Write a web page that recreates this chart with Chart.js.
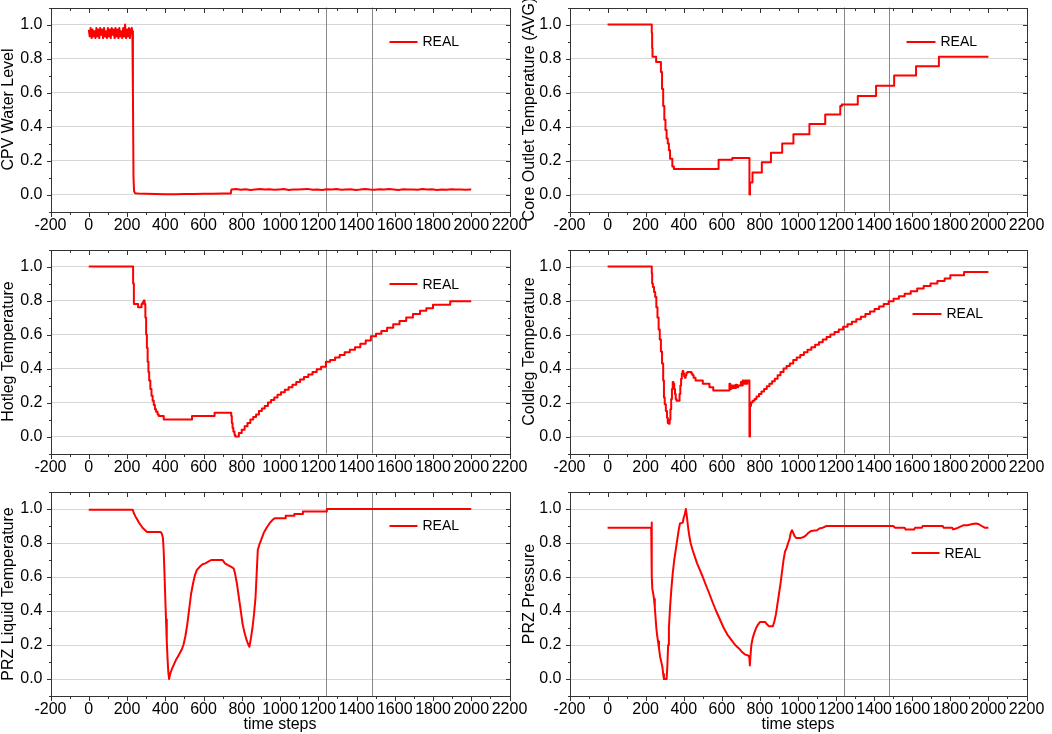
<!DOCTYPE html>
<html>
<head>
<meta charset="utf-8">
<script src="https://cdn.jsdelivr.net/npm/chart.js@4.4.0/dist/chart.umd.min.js"></script>
<style>
html,body{margin:0;padding:0;background:#fff;width:1052px;height:734px;overflow:hidden;position:relative;}
</style>
</head>
<body>
<script>
// ---------------- DATA ----------------
const timeTicks = [-200, 0, 200, 400, 600, 800, 1000, 1200, 1400, 1600, 1800, 2000, 2200];
const timeMinor = [-100, 100, 300, 500, 700, 900, 1100, 1300, 1500, 1700, 1900, 2100];
const levelTicks = [0.0, 0.2, 0.4, 0.6, 0.8, 1.0];
const levelMinor = [-0.1, 0.1, 0.3, 0.5, 0.7, 0.9, 1.1];
const markerSteps = [1240, 1480];
const seriesName = 'REAL';

// CPV Water Level
const cpvX = [0,5,10,15,20,25,30,35,40,45,50,55,60,65,70,75,80,85,90,95,100,105,110,115,120,125,130,135,140,145,150,155,160,165,170,175,180,185,190,195,200,205,210,215,220,225,
  228,231,234,237,242,260,300,350,400,450,500,550,600,650,700,743,746,
  770,795,820,845,870,895,920,945,970,995,1020,1045,1070,1095,1120,1145,1170,1195,1220,1245,1270,1295,1320,1345,1370,1395,1420,1445,1470,1495,1520,1545,1570,1595,1620,1645,1670,1695,1720,1745,1770,1795,1820,1845,1870,1895,1920,1945,1970,1995,2000];
const cpvY = [0.97,0.93,0.98,0.92,0.97,0.93,0.96,0.92,0.98,0.93,
  0.97,0.92,0.98,0.94,0.97,0.92,0.98,0.93,0.96,0.92,
  0.98,0.93,0.97,0.92,0.98,0.94,0.97,0.92,0.98,0.93,
  0.97,0.92,0.98,0.93,0.96,0.92,0.98,0.93,1.00,0.92,
  0.97,0.93,0.98,0.92,0.97,0.98,
  0.96,0.60,0.10,0.02,0.008,0.006,0.005,0.003,0.002,0.002,0.003,0.003,0.004,0.005,0.006,0.006,0.030,
  0.032,0.028,0.031,0.027,0.030,0.033,0.029,0.031,0.028,0.030,
  0.032,0.027,0.030,0.029,0.031,0.033,0.028,0.030,0.027,0.031,
  0.029,0.032,0.028,0.030,0.031,0.027,0.029,0.033,0.030,0.028,
  0.031,0.029,0.032,0.030,0.027,0.031,0.029,0.030,0.028,0.032,
  0.029,0.031,0.027,0.030,0.028,0.031,0.029,0.030,0.028,0.030,0.029];

// Core Outlet Temperature (AVG) - stepped
const coreX = [0,232,234,236,255,280,286,292,298,304,310,316,322,328,340,348,583,655,745,748,761,810,858,917,976,1060,1143,1222,1230,1314,1410,1505,1620,1740,2000];
const coreY = [1.0,0.95,0.86,0.81,0.78,0.72,0.62,0.52,0.44,0.38,0.33,0.30,0.26,0.21,0.165,0.15,0.205,0.215,0.0,0.07,0.13,0.19,0.245,0.30,0.355,0.415,0.47,0.52,0.53,0.58,0.64,0.70,0.755,0.81,0.81];

// Hotleg Temperature - stepped
const hotX = [0,232,236,258,276,282,288,292,296,300,304,308,312,316,322,328,334,340,346,352,360,366,392,540,658,745,748,752,756,762,766,785,
  800,815,830,845,860,875,890,905,920,937,953,970,987,1005,1025,1045,1065,1085,1105,1125,1148,1170,1192,1215,1240,1262,1288,1312,1338,1365,1392,1420,1448,1475,1502,1530,1560,1592,1625,1660,1695,1732,1765,1800,1890,2000];
const hotY = [1.0,0.9,0.78,0.76,0.78,0.79,0.80,0.78,0.70,0.60,0.52,0.44,0.38,0.33,0.28,0.24,0.21,0.185,0.16,0.145,0.13,0.12,0.10,0.12,0.14,0.12,0.08,0.05,0.03,0.01,0.0,0.02,
  0.04,0.06,0.08,0.10,0.115,0.13,0.15,0.165,0.18,0.20,0.215,0.23,0.245,0.26,0.275,0.29,0.305,0.32,0.335,0.35,0.365,0.38,0.395,0.41,0.44,0.45,0.465,0.48,0.495,0.51,0.525,0.545,0.565,0.59,0.605,0.62,0.64,0.66,0.68,0.70,0.72,0.74,0.755,0.775,0.795,0.795];

// Coldleg Temperature - stepped
const coldX = [0,232,234,238,244,250,256,262,268,274,280,286,292,296,300,306,312,316,322,326,330,334,338,342,346,350,354,358,362,378,382,386,390,394,398,402,406,410,414,420,440,446,452,462,500,535,555,640,644,650,654,662,668,674,680,686,700,706,710,716,722,728,734,745,
  748,753,762,772,782,795,808,822,836,850,864,878,893,908,924,940,957,975,993,1012,1031,1050,1070,1090,1110,1130,1150,1170,1192,1214,1237,1260,1283,1306,1330,1354,1378,1402,1426,1450,1476,1502,1530,1560,1592,1626,1660,1696,1732,1770,1800,1872,2000];
const coldY = [1.0,0.96,0.90,0.88,0.85,0.82,0.76,0.70,0.63,0.57,0.50,0.43,0.33,0.23,0.19,0.15,0.11,0.08,0.075,0.10,0.16,0.22,0.28,0.32,0.31,0.28,0.25,0.22,0.21,0.25,0.30,0.34,0.37,0.385,0.37,0.355,0.345,0.36,0.375,0.38,0.37,0.36,0.345,0.33,0.31,0.29,0.27,0.31,0.28,0.30,0.285,0.30,0.285,0.305,0.29,0.30,0.32,0.30,0.33,0.31,0.33,0.31,0.33,0.0,
  0.18,0.20,0.21,0.22,0.235,0.25,0.265,0.28,0.295,0.31,0.325,0.34,0.36,0.38,0.40,0.415,0.43,0.45,0.465,0.48,0.495,0.51,0.525,0.54,0.555,0.57,0.585,0.60,0.615,0.63,0.645,0.66,0.675,0.69,0.705,0.72,0.735,0.75,0.765,0.78,0.795,0.81,0.825,0.84,0.855,0.87,0.885,0.90,0.915,0.93,0.948,0.968,0.968];

// PRZ Liquid Temperature
const przTX = [0,230,236,245,255,265,275,285,295,305,375,382,388,392,396,400,404,408,412,416,420,426,435,445,455,465,475,485,495,505,515,525,535,545,555,565,580,595,610,625,640,700,712,728,745,758,765,775,785,795,805,815,825,835,840,848,856,864,872,878,884,892,902,915,930,945,960,972,1030,1030,1075,1075,1120,1120,1245,1245,2000];
const przTY = [0.995,0.995,0.975,0.955,0.935,0.915,0.90,0.885,0.875,0.865,0.865,0.855,0.83,0.75,0.62,0.48,0.35,0.22,0.12,0.04,0.0,0.03,0.06,0.085,0.11,0.13,0.15,0.17,0.20,0.25,0.32,0.41,0.50,0.56,0.61,0.64,0.66,0.675,0.68,0.69,0.70,0.70,0.68,0.67,0.66,0.65,0.62,0.56,0.48,0.40,0.32,0.27,0.23,0.20,0.19,0.24,0.30,0.38,0.48,0.62,0.76,0.79,0.82,0.86,0.89,0.915,0.935,0.945,0.945,0.96,0.96,0.97,0.97,0.985,0.985,1.0,1.0];

// PRZ Pressure
const przPX = [0,229,231,233,235,240,244,248,252,256,260,265,270,276,282,288,292,296,310,314,318,322,328,335,342,350,358,366,374,380,395,400,406,411,416,422,428,436,446,458,470,485,500,517,535,552,570,590,610,630,650,670,690,705,720,735,742,745,747,750,755,762,770,780,790,800,828,838,848,868,876,884,892,900,908,916,924,932,940,948,955,962,968,975,982,990,1015,1030,1042,1055,1068,1100,1112,1130,1150,1500,1510,1560,1565,1610,1615,1650,1655,1760,1765,1810,1815,1830,1850,1870,1890,1910,1935,1950,1965,1980,2000];
const przPY = [0.89,0.89,0.92,0.60,0.53,0.50,0.47,0.42,0.36,0.30,0.26,0.22,0.18,0.13,0.10,0.07,0.03,0.0,0.0,0.08,0.20,0.30,0.42,0.53,0.62,0.70,0.76,0.82,0.88,0.915,0.92,0.95,0.97,1.0,0.96,0.90,0.85,0.80,0.76,0.72,0.68,0.64,0.60,0.55,0.50,0.45,0.40,0.35,0.30,0.26,0.23,0.20,0.18,0.16,0.145,0.14,0.135,0.12,0.08,0.13,0.20,0.24,0.27,0.30,0.32,0.335,0.335,0.32,0.31,0.31,0.34,0.38,0.44,0.50,0.56,0.63,0.70,0.75,0.77,0.80,0.82,0.86,0.875,0.86,0.84,0.83,0.83,0.835,0.845,0.86,0.87,0.875,0.885,0.89,0.90,0.90,0.89,0.89,0.88,0.88,0.89,0.89,0.90,0.90,0.89,0.89,0.88,0.885,0.895,0.905,0.905,0.91,0.915,0.91,0.90,0.89,0.89];

// ---------------- LAYOUT ----------------
const COLS = [
  {left: 0,   width: 540, plotLeft: 50.5,  plotRight: 509.5},
  {left: 521, width: 531, plotLeft: 569.5, plotRight: 1026.5}
];
const ROWS = [
  {top: 0,   height: 235, plotTop: 7.5,   plotBottom: 211.5},
  {top: 235, height: 245, plotTop: 249.5, plotBottom: 453.5},
  {top: 480, height: 254, plotTop: 492,   plotBottom: 696}
];

const panels = [
  {title: 'CPV Water Level',               xs: cpvX,  ys: cpvY,  stepped: false, col: 0, row: 0, legend: [339, 367, 34.2]},
  {title: 'Core Outlet Temperature (AVG)', xs: coreX, ys: coreY, stepped: true,  col: 1, row: 0, legend: [337, 366, 34.2]},
  {title: 'Hotleg Temperature',            xs: hotX,  ys: hotY,  stepped: true,  col: 0, row: 1, legend: [339, 367, 34.8]},
  {title: 'Coldleg Temperature',           xs: coldX, ys: coldY, stepped: true,  col: 1, row: 1, legend: [343, 372, 64.5]},
  {title: 'PRZ Liquid Temperature',        xs: przTX, ys: przTY, stepped: false, col: 0, row: 2, legend: [339, 367, 33.7]},
  {title: 'PRZ Pressure',                  xs: przPX, ys: przPY, stepped: false, col: 1, row: 2, legend: [342, 370, 61.3]}
];

const FONT = "'Liberation Sans', Arial, Helvetica, sans-serif";
const al = v => Math.round(v) + 0.5;

const markerPlugin = {
  id: 'markers',
  beforeDatasetsDraw(chart) {
    const {ctx, chartArea: a, scales: {x}} = chart;
    ctx.save();
    ctx.strokeStyle = '#8a8a8a';
    ctx.lineWidth = 1;
    markerSteps.forEach(v => {
      const px = al(x.getPixelForValue(v));
      ctx.beginPath(); ctx.moveTo(px, a.top); ctx.lineTo(px, a.bottom); ctx.stroke();
    });
    ctx.restore();
  }
};

const framePlugin = {
  id: 'frame',
  afterDatasetsDraw(chart) {
    const {ctx, chartArea: a, scales: {x, y}} = chart;
    const L = al(a.left), R = al(a.right), T = al(a.top), B = al(a.bottom);
    ctx.save();
    ctx.strokeStyle = '#333';
    ctx.lineWidth = 1;
    ctx.strokeRect(L, T, R - L, B - T);
    const tick = (vals, len) => {
      vals.forEach(v => {
        const px = al(x.getPixelForValue(v));
        ctx.beginPath();
        ctx.moveTo(px, B); ctx.lineTo(px, B + len);
        ctx.moveTo(px, T); ctx.lineTo(px, T + len);
        ctx.stroke();
      });
    };
    const ytick = (vals, len) => {
      vals.forEach(v => {
        const py = al(y.getPixelForValue(v));
        ctx.beginPath();
        ctx.moveTo(L, py); ctx.lineTo(L - len, py);
        ctx.moveTo(R, py); ctx.lineTo(R - len, py);
        ctx.stroke();
      });
    };
    tick(timeTicks, 4.5); tick(timeMinor, 2.5);
    ytick(levelTicks, 4.5); ytick(levelMinor, 2.5);
    ctx.restore();
  }
};

const legendPlugin = {
  id: 'realLegend',
  afterDraw(chart, args, opts) {
    const {ctx, chartArea: a} = chart;
    const [x0, x1, yy] = opts.pos;
    const ds = chart.data.datasets[0];
    ctx.save();
    ctx.strokeStyle = ds.borderColor;
    ctx.lineWidth = 2;
    ctx.beginPath();
    ctx.moveTo(a.left + x0, Math.round(a.top + yy));
    ctx.lineTo(a.left + x1, Math.round(a.top + yy));
    ctx.stroke();
    ctx.fillStyle = '#000';
    ctx.font = '14px ' + FONT;
    ctx.textBaseline = 'middle';
    ctx.fillText(ds.label, a.left + x1 + 5, a.top + yy + 0.5);
    ctx.restore();
  }
};

panels.forEach(p => {
  const col = COLS[p.col], row = ROWS[p.row];
  const wrap = document.createElement('div');
  wrap.style.cssText = `position:absolute;left:${col.left}px;top:${row.top}px;width:${col.width}px;height:${row.height}px;`;
  const cv = document.createElement('canvas');
  wrap.appendChild(cv);
  document.body.appendChild(wrap);

  const padTop = row.plotTop - row.top;
  const padRight = col.width - (col.plotRight - col.left);
  const yW = col.plotLeft - col.left;
  const xH = row.height - (row.plotBottom - row.top);
  const bottomRow = p.row === 2;

  new Chart(cv, {
    type: 'line',
    data: {
      datasets: [{
        label: seriesName,
        data: p.xs.map((xv, i) => ({x: xv, y: p.ys[i]})),
        borderColor: '#ff0000',
        borderWidth: 2,
        borderJoinStyle: 'round',
        pointRadius: 0,
        fill: false,
        tension: 0,
        stepped: p.stepped
      }]
    },
    options: {
      responsive: true,
      maintainAspectRatio: false,
      animation: false,
      events: [],
      layout: {padding: {top: padTop, right: padRight, left: 0, bottom: 0}},
      plugins: {
        legend: {display: false},
        tooltip: {enabled: false},
        realLegend: {pos: p.legend}
      },
      scales: {
        x: {
          type: 'linear',
          min: -200, max: 2200,
          afterBuildTicks: s => { s.ticks = timeTicks.map(v => ({value: v})); },
          afterFit: s => { s.height = xH; s.paddingLeft = 0; s.paddingRight = 0; },
          grid: {display: false, drawTicks: false},
          border: {display: false},
          ticks: {
            autoSkip: false, maxRotation: 0, minRotation: 0, padding: 4,
            color: '#000', font: {family: FONT, size: 16},
            callback: v => String(v)
          },
          title: {
            display: bottomRow, text: 'time steps', color: '#000',
            font: {family: FONT, size: 16, lineHeight: 1.2}, padding: {top: 0, bottom: 0}
          }
        },
        y: {
          type: 'linear',
          min: -0.1, max: 1.1,
          afterBuildTicks: s => { s.ticks = levelTicks.map(v => ({value: v})); },
          afterFit: s => { s.width = yW; s.paddingTop = 0; s.paddingBottom = 0; },
          grid: {color: '#d6d6d6', lineWidth: 1, drawTicks: false},
          border: {display: false},
          ticks: {
            padding: 8, color: '#000', font: {family: FONT, size: 16},
            callback: v => Number(v).toFixed(1)
          },
          title: {
            display: true, text: p.title, color: '#000',
            font: {family: FONT, size: 16, lineHeight: 1.1}, padding: {top: 0, bottom: 0}
          }
        }
      }
    },
    plugins: [markerPlugin, framePlugin, legendPlugin]
  });
});
</script>
</body>
</html>
